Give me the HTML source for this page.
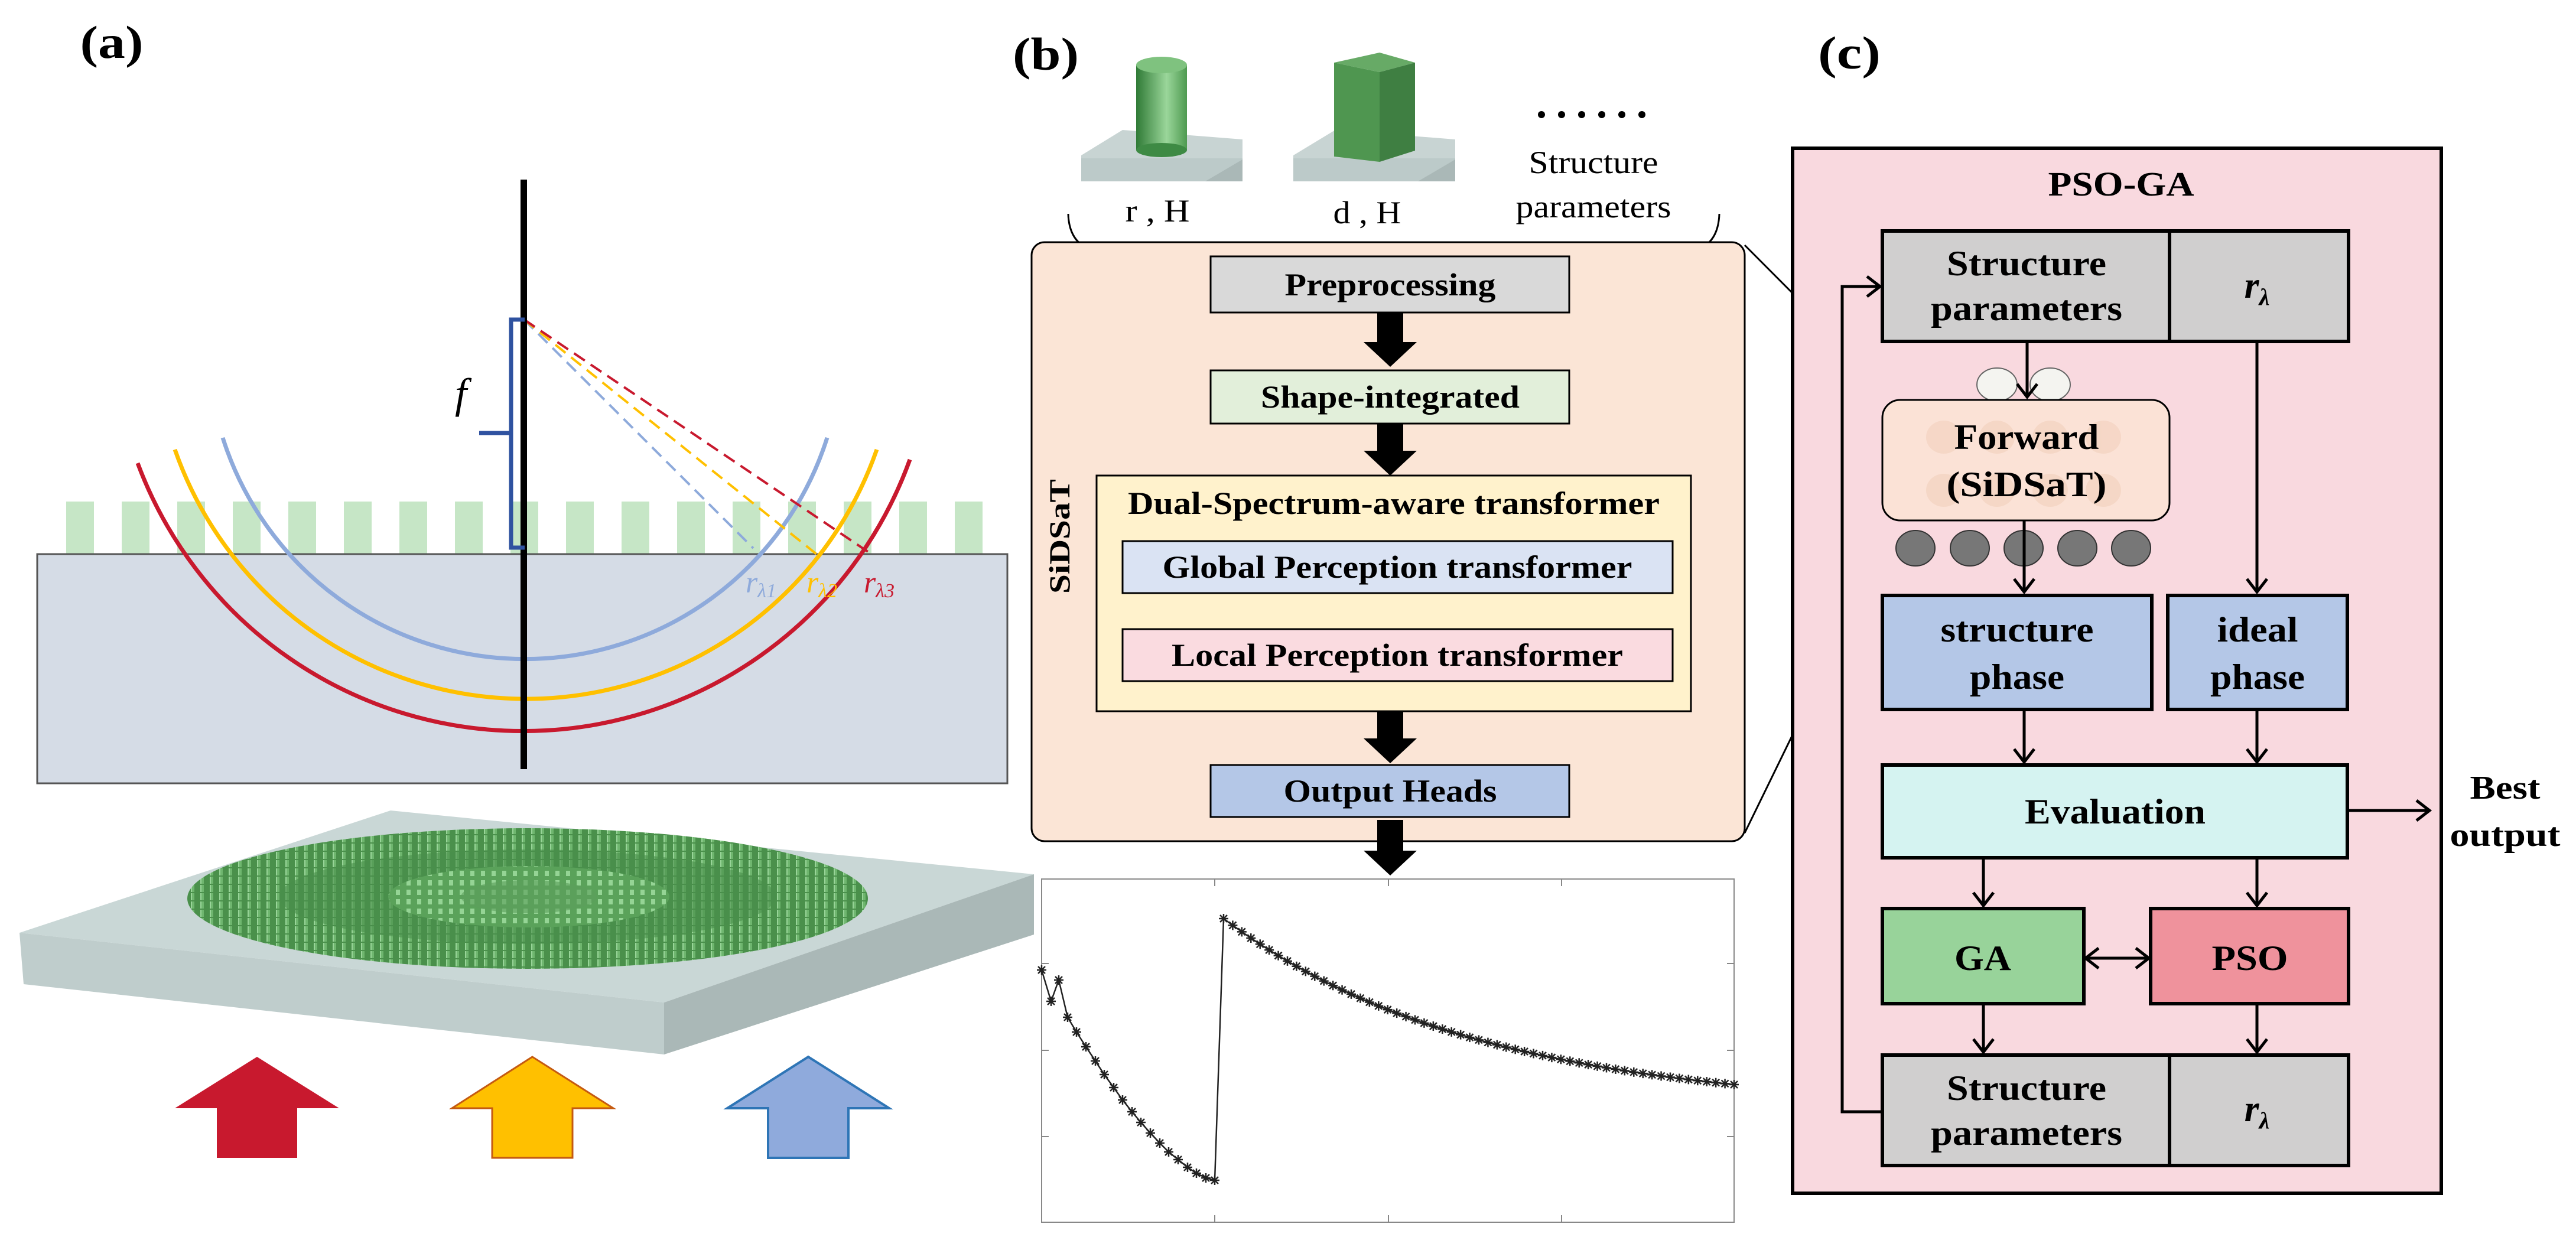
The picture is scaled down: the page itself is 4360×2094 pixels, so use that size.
<!DOCTYPE html>
<html><head><meta charset="utf-8"><style>
html,body{margin:0;padding:0;background:#fff;}
svg{display:block;}
text{font-family:"Liberation Serif","DejaVu Serif",serif;}
</style></head><body>
<svg width="4360" height="2094" viewBox="0 0 4360 2094" xmlns="http://www.w3.org/2000/svg" font-family="Liberation Serif, DejaVu Serif, serif">
<defs>
<pattern id="pil" width="16" height="14" patternUnits="userSpaceOnUse">
<rect width="16" height="14" fill="#4a904b"/>
<rect x="3" y="0" width="6" height="12" fill="#6fb66f"/>
<rect x="3" y="0" width="2" height="12" fill="#98d498"/>
</pattern>
<pattern id="pil2" width="18" height="16" patternUnits="userSpaceOnUse">
<rect width="18" height="16" fill="#5aa25a"/>
<rect x="4" y="2" width="7" height="9" fill="#95d495"/>
</pattern>
<linearGradient id="cyl" x1="0" x2="1">
<stop offset="0" stop-color="#2f7a35"/><stop offset="0.6" stop-color="#9ad69a"/><stop offset="1" stop-color="#4e9a50"/>
</linearGradient>
</defs>

<!-- ===== Panel (a) ===== -->
<text x="189" y="98" font-weight="bold" font-size="78" text-anchor="middle" textLength="107" lengthAdjust="spacingAndGlyphs">(a)</text>

<g fill="#c6e6c6">
<rect x="112" y="849" width="47" height="89"/><rect x="206" y="849" width="47" height="89"/><rect x="300" y="849" width="47" height="89"/><rect x="394" y="849" width="47" height="89"/><rect x="488" y="849" width="47" height="89"/><rect x="582" y="849" width="47" height="89"/><rect x="676" y="849" width="47" height="89"/><rect x="770" y="849" width="47" height="89"/><rect x="864" y="849" width="47" height="89"/><rect x="958" y="849" width="47" height="89"/><rect x="1052" y="849" width="47" height="89"/><rect x="1146" y="849" width="47" height="89"/><rect x="1240" y="849" width="47" height="89"/><rect x="1334" y="849" width="47" height="89"/><rect x="1428" y="849" width="47" height="89"/><rect x="1522" y="849" width="47" height="89"/><rect x="1616" y="849" width="47" height="89"/>
</g>
<rect x="63" y="938" width="1642" height="388" fill="#d5dce6" stroke="#555" stroke-width="3"/>

<g fill="none" stroke-width="7">
<path d="M377,741 A536.5,536.5 0 0 0 1400,741" stroke="#8eaadb"/>
<path d="M296,761 A629,629 0 0 0 1484,761" stroke="#ffc000"/>
<path d="M233,784 A696,696 0 0 0 1540,778" stroke="#c8192e"/>
</g>
<g fill="none" stroke-width="4" stroke-dasharray="22,12">
<line x1="887" y1="541" x2="1275" y2="928" stroke="#8eaadb"/>
<line x1="887" y1="541" x2="1382" y2="938" stroke="#ffc000"/>
<line x1="887" y1="541" x2="1469" y2="934" stroke="#c8192e"/>
</g>
<rect x="881" y="304" width="11" height="998" fill="#000"/>
<path d="M888,541 H865 V927 H888 M865,733 H811" fill="none" stroke="#2f52a0" stroke-width="7"/>
<text x="770" y="690" font-size="72" font-style="italic">f</text>
<text x="1262" y="1003" font-size="52" font-style="italic" fill="#8eaadb">r<tspan font-size="34" dy="8">λ1</tspan></text>
<text x="1365" y="1003" font-size="52" font-style="italic" fill="#ffc000">r<tspan font-size="34" dy="8">λ2</tspan></text>
<text x="1462" y="1003" font-size="52" font-style="italic" fill="#c8192e">r<tspan font-size="34" dy="8">λ3</tspan></text>

<polygon points="33,1579 661,1372 1750,1480 1124,1697" fill="#c9d7d6"/>
<polygon points="33,1579 1124,1697 1124,1785 40,1666" fill="#bfcdcc"/>
<polygon points="1124,1697 1750,1480 1750,1582 1124,1785" fill="#aab8b7"/>
<ellipse cx="893" cy="1521" rx="576" ry="119" fill="url(#pil)"/>
<ellipse cx="893" cy="1518" rx="420" ry="80" fill="#4a8f4b" opacity="0.6"/>
<ellipse cx="895" cy="1518" rx="238" ry="52" fill="url(#pil2)"/>
<ellipse cx="895" cy="1518" rx="115" ry="28" fill="#5c9f5c" opacity="0.6"/>

<polygon points="296,1876 435,1789 574,1876 503,1876 503,1960 367,1960 367,1876" fill="#c8192e"/>
<polygon points="765,1876 901,1789 1038,1876 969,1876 969,1960 833,1960 833,1876" fill="#ffc000" stroke="#c55a11" stroke-width="3"/>
<polygon points="1231,1876 1368,1789 1505,1876 1436,1876 1436,1960 1300,1960 1300,1876" fill="#8faadc" stroke="#2e75b6" stroke-width="4"/>

<!-- ===== Panel (b) ===== -->
<text x="1770" y="118" font-weight="bold" font-size="78" text-anchor="middle" textLength="112" lengthAdjust="spacingAndGlyphs">(b)</text>
<polygon points="1830,263 1900,220 2103,236 2103,307 1830,307" fill="#c8d4d3"/>
<rect x="1830" y="268" width="273" height="39" fill="#bccac9"/>
<polygon points="2040,307 2103,270 2103,307" fill="#aab8b7"/>
<rect x="1923" y="110" width="86" height="144" fill="url(#cyl)"/>
<ellipse cx="1966" cy="254" rx="43" ry="12" fill="#3e8a44"/>
<ellipse cx="1966" cy="110" rx="43" ry="14" fill="#7fc27f"/>
<polygon points="2189,263 2260,220 2463,236 2463,307 2189,307" fill="#c8d4d3"/>
<rect x="2189" y="268" width="274" height="39" fill="#bccac9"/>
<polygon points="2400,307 2463,270 2463,307" fill="#aab8b7"/>
<polygon points="2258,106 2335,89 2395,106 2335,122" fill="#67aa66"/>
<polygon points="2258,106 2335,122 2335,274 2258,265" fill="#4f9650"/>
<polygon points="2335,122 2395,106 2395,255 2335,274" fill="#3f7f42"/>
<g fill="#000"><circle cx="2609" cy="194" r="6"/><circle cx="2643" cy="194" r="6"/><circle cx="2677" cy="194" r="6"/><circle cx="2711" cy="194" r="6"/><circle cx="2745" cy="194" r="6"/><circle cx="2779" cy="194" r="6"/></g>
<text x="2697" y="293" font-size="54" text-anchor="middle" textLength="219" lengthAdjust="spacingAndGlyphs">Structure</text>
<text x="2697" y="368" font-size="54" text-anchor="middle" textLength="263" lengthAdjust="spacingAndGlyphs">parameters</text>
<text x="1959" y="375" font-size="54" text-anchor="middle" textLength="109" lengthAdjust="spacingAndGlyphs">r , H</text>
<text x="2314" y="378" font-size="54" text-anchor="middle" textLength="115" lengthAdjust="spacingAndGlyphs">d , H</text>
<path d="M1808,362 Q1810,428 1880,428 L2300,428 Q2355,428 2359,436 Q2364,428 2420,428 L2840,428 Q2908,428 2910,362" fill="none" stroke="#000" stroke-width="3"/>

<rect x="1746" y="410" width="1207" height="1014" rx="22" fill="#fbe5d6" stroke="#000" stroke-width="3"/>
<text transform="translate(1810,908) rotate(-90)" font-weight="bold" font-size="50" text-anchor="middle" textLength="194" lengthAdjust="spacingAndGlyphs">SiDSaT</text>
<g stroke="#000" stroke-width="3">
<rect x="2049" y="434" width="607" height="95" fill="#d9d9d9"/>
<rect x="2049" y="627" width="607" height="90" fill="#e2efda"/>
<rect x="1856" y="805" width="1006" height="399" fill="#fff2cc"/>
<rect x="1900" y="916" width="931" height="88" fill="#dae3f3"/>
<rect x="1900" y="1065" width="931" height="88" fill="#fadbe0"/>
<rect x="2049" y="1295" width="607" height="88" fill="#b4c7e7"/>
</g>
<g font-weight="bold" font-size="54" text-anchor="middle" lengthAdjust="spacingAndGlyphs">
<text x="2353" y="500" textLength="357" lengthAdjust="spacingAndGlyphs">Preprocessing</text>
<text x="2353" y="690" textLength="438" lengthAdjust="spacingAndGlyphs">Shape-integrated</text>
<text x="2359" y="870" textLength="900" lengthAdjust="spacingAndGlyphs">Dual-Spectrum-aware transformer</text>
<text x="2365" y="978" textLength="795" lengthAdjust="spacingAndGlyphs">Global Perception transformer</text>
<text x="2365" y="1127" textLength="764" lengthAdjust="spacingAndGlyphs">Local Perception transformer</text>
<text x="2353" y="1357" textLength="361" lengthAdjust="spacingAndGlyphs">Output Heads</text>
</g>
<g fill="#000">
<polygon points="2331,529 2375,529 2375,579 2398,579 2353,621 2308,579 2331,579"/>
<polygon points="2331,717 2375,717 2375,763 2398,763 2353,805 2308,763 2331,763"/>
<polygon points="2331,1204 2375,1204 2375,1250 2398,1250 2353,1292 2308,1250 2331,1250"/>
<polygon points="2331,1388 2375,1388 2375,1440 2398,1440 2353,1482 2308,1440 2331,1440"/>
</g>

<rect x="1763" y="1488" width="1172" height="581" fill="#fff" stroke="#888" stroke-width="2"/>
<g stroke="#888" stroke-width="2">
<line x1="2056" y1="1488" x2="2056" y2="1500"/><line x1="2350" y1="1488" x2="2350" y2="1500"/><line x1="2643" y1="1488" x2="2643" y2="1500"/>
<line x1="2056" y1="2069" x2="2056" y2="2057"/><line x1="2350" y1="2069" x2="2350" y2="2057"/><line x1="2643" y1="2069" x2="2643" y2="2057"/>
<line x1="2935" y1="1631" x2="2923" y2="1631"/><line x1="2935" y1="1778" x2="2923" y2="1778"/><line x1="2935" y1="1924" x2="2923" y2="1924"/>
<line x1="1763" y1="1631" x2="1775" y2="1631"/><line x1="1763" y1="1778" x2="1775" y2="1778"/><line x1="1763" y1="1924" x2="1775" y2="1924"/>
</g>
<path id="curve" d="M1763,1642 L1779,1695 L1792,1659 L1807,1722 L1822,1747 L1838,1772 L1854,1796 L1869,1819 L1885,1841 L1900,1862 L1916,1882 L1931,1900 L1947,1918 L1963,1935 L1978,1950 L1994,1963 L2010,1976 L2025,1986 L2041,1994 L2056,1998 L2071,1555 C2300,1660 2600,1785 2935,1836" fill="none" stroke="#222" stroke-width="2.5"/>
<g id="stars" fill="none" stroke="#222" stroke-width="2.5"></g>

<line x1="2953" y1="415" x2="3211" y2="674" stroke="#000" stroke-width="3"/>
<line x1="2953" y1="1410" x2="3211" y2="881" stroke="#000" stroke-width="3"/>

<!-- ===== Panel (c) ===== -->
<text x="3130" y="116" font-weight="bold" font-size="78" text-anchor="middle" textLength="106" lengthAdjust="spacingAndGlyphs">(c)</text>
<rect x="3034" y="251" width="1098" height="1769" fill="#f9d9df" stroke="#000" stroke-width="6"/>
<text x="3590" y="331" font-weight="bold" font-size="58" text-anchor="middle" textLength="247" lengthAdjust="spacingAndGlyphs">PSO-GA</text>

<g stroke="#000" stroke-width="6">
<rect x="3186" y="391" width="789" height="187" fill="#d0cfcf"/>
<line x1="3672" y1="391" x2="3672" y2="578"/>
<rect x="3186" y="1008" width="456" height="193" fill="#b4c7e7"/>
<rect x="3669" y="1008" width="304" height="193" fill="#b4c7e7"/>
<rect x="3186" y="1295" width="787" height="157" fill="#d5f3f1"/>
<rect x="3186" y="1538" width="341" height="161" fill="#98d39a"/>
<rect x="3640" y="1538" width="335" height="161" fill="#ef929c"/>
<rect x="3186" y="1786" width="789" height="187" fill="#d0cfcf"/>
<line x1="3672" y1="1786" x2="3672" y2="1973"/>
</g>
<ellipse cx="3380" cy="651" rx="34" ry="28" fill="#f4f4f0" stroke="#666" stroke-width="2"/>
<ellipse cx="3470" cy="651" rx="34" ry="28" fill="#f4f4f0" stroke="#666" stroke-width="2"/>
<rect x="3186" y="677" width="486" height="204" rx="30" fill="#fbe2d6" stroke="#000" stroke-width="3"/>
<g fill="#f3d3c0" opacity="0.7">
<ellipse cx="3290" cy="740" rx="30" ry="28"/><ellipse cx="3380" cy="740" rx="30" ry="28"/><ellipse cx="3470" cy="740" rx="30" ry="28"/><ellipse cx="3560" cy="740" rx="30" ry="28"/>
<ellipse cx="3290" cy="830" rx="30" ry="28"/><ellipse cx="3380" cy="830" rx="30" ry="28"/><ellipse cx="3470" cy="830" rx="30" ry="28"/><ellipse cx="3560" cy="830" rx="30" ry="28"/>
</g>
<g fill="#777" stroke="#333" stroke-width="2">
<ellipse cx="3242" cy="928" rx="33" ry="30"/><ellipse cx="3334" cy="928" rx="33" ry="30"/><ellipse cx="3425" cy="928" rx="33" ry="30"/><ellipse cx="3516" cy="928" rx="33" ry="30"/><ellipse cx="3607" cy="928" rx="33" ry="30"/>
</g>

<g font-weight="bold" font-size="60" text-anchor="middle">
<text x="3430" y="466" textLength="270" lengthAdjust="spacingAndGlyphs">Structure</text>
<text x="3430" y="542" textLength="324" lengthAdjust="spacingAndGlyphs">parameters</text>
<text x="3430" y="760" textLength="245" lengthAdjust="spacingAndGlyphs">Forward</text>
<text x="3430" y="840" textLength="271" lengthAdjust="spacingAndGlyphs">(SiDSaT)</text>
<text x="3414" y="1086" textLength="259" lengthAdjust="spacingAndGlyphs">structure</text>
<text x="3414" y="1166" textLength="160" lengthAdjust="spacingAndGlyphs">phase</text>
<text x="3821" y="1086" textLength="137" lengthAdjust="spacingAndGlyphs">ideal</text>
<text x="3821" y="1166" textLength="160" lengthAdjust="spacingAndGlyphs">phase</text>
<text x="3580" y="1394" textLength="306" lengthAdjust="spacingAndGlyphs">Evaluation</text>
<text x="3356" y="1642" textLength="96" lengthAdjust="spacingAndGlyphs">GA</text>
<text x="3808" y="1642" textLength="129" lengthAdjust="spacingAndGlyphs">PSO</text>
<text x="3430" y="1862" textLength="270" lengthAdjust="spacingAndGlyphs">Structure</text>
<text x="3430" y="1938" textLength="324" lengthAdjust="spacingAndGlyphs">parameters</text>
<text x="4240" y="1352" font-size="56" textLength="119" lengthAdjust="spacingAndGlyphs">Best</text>
<text x="4240" y="1432" font-size="56" textLength="187" lengthAdjust="spacingAndGlyphs">output</text>
</g>
<text x="3820" y="504" font-size="64" font-weight="bold" font-style="italic" text-anchor="middle">r<tspan font-size="40" dy="12">λ</tspan></text>
<text x="3820" y="1898" font-size="64" font-weight="bold" font-style="italic" text-anchor="middle">r<tspan font-size="40" dy="12">λ</tspan></text>

<g stroke="#000" stroke-width="5" fill="none">
<line x1="3431" y1="578" x2="3431" y2="670"/><polyline points="3414,650 3431,672 3448,650"/>
<line x1="3820" y1="578" x2="3820" y2="1000"/><polyline points="3803,980 3820,1002 3837,980"/>
<line x1="3426" y1="881" x2="3426" y2="1000"/><polyline points="3409,980 3426,1002 3443,980"/>
<line x1="3426" y1="1201" x2="3426" y2="1288"/><polyline points="3409,1268 3426,1290 3443,1268"/>
<line x1="3820" y1="1201" x2="3820" y2="1288"/><polyline points="3803,1268 3820,1290 3837,1268"/>
<line x1="3973" y1="1372" x2="4110" y2="1372"/><polyline points="4090,1355 4112,1372 4090,1389"/>
<line x1="3357" y1="1452" x2="3357" y2="1531"/><polyline points="3340,1511 3357,1533 3374,1511"/>
<line x1="3820" y1="1452" x2="3820" y2="1531"/><polyline points="3803,1511 3820,1533 3837,1511"/>
<line x1="3532" y1="1622" x2="3635" y2="1622"/><polyline points="3552,1605 3530,1622 3552,1639"/><polyline points="3615,1605 3637,1622 3615,1639"/>
<line x1="3357" y1="1699" x2="3357" y2="1779"/><polyline points="3340,1759 3357,1781 3374,1759"/>
<line x1="3820" y1="1699" x2="3820" y2="1779"/><polyline points="3803,1759 3820,1781 3837,1759"/>
<polyline points="3186,1882 3118,1882 3118,485 3180,485"/><polyline points="3160,468 3182,485 3160,502"/>
</g>
</svg>
<script>
(function(){
var g=document.getElementById('stars');var pts=[];
var a=[[1763,1642],[1779,1695],[1792,1659],[1807,1722],[1822,1747],[1838,1772],[1854,1796],[1869,1819],[1885,1841],[1900,1862],[1916,1882],[1931,1900],[1947,1918],[1963,1935],[1978,1950],[1994,1963],[2010,1976],[2025,1986],[2041,1994],[2056,1998]];
pts=pts.concat(a);
var d='M'+a.map(function(p){return p[0]+','+p[1]}).join(' L');
var n=56,k=2.0;
for(var i=0;i<=n;i++){var t=i/n;var x=2071+864*t;var y=1555+281*(1-Math.exp(-k*t))/(1-Math.exp(-k));pts.push([x,y]);d+=' L'+x.toFixed(1)+','+y.toFixed(1);}
document.getElementById('curve').setAttribute('d',d);
var s='';pts.forEach(function(p){var x=p[0],y=p[1],r=8;
s+='<line x1="'+(x-r)+'" y1="'+y+'" x2="'+(x+r)+'" y2="'+y+'"/><line x1="'+x+'" y1="'+(y-r)+'" x2="'+x+'" y2="'+(y+r)+'"/><line x1="'+(x-6)+'" y1="'+(y-6)+'" x2="'+(x+6)+'" y2="'+(y+6)+'"/><line x1="'+(x-6)+'" y1="'+(y+6)+'" x2="'+(x+6)+'" y2="'+(y-6)+'"/>';});
g.innerHTML=s;
})();
</script>
</body></html>
